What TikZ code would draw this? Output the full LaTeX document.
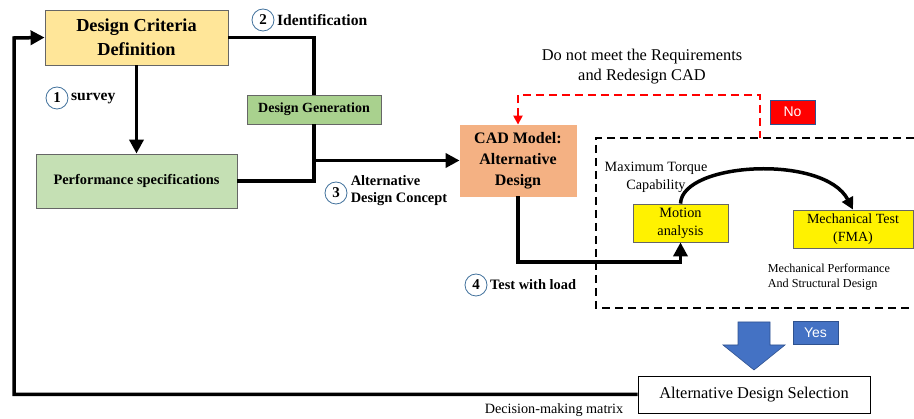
\documentclass[tikz,border=0pt]{standalone}
\usepackage{fontspec}
\setmainfont{Liberation Serif}
\newfontfamily\sansfont{Liberation Sans}
\usetikzlibrary{arrows.meta,positioning}

\definecolor{critcol}{HTML}{FFE699}
\definecolor{speccol}{HTML}{C5E0B4}
\definecolor{gencol}{HTML}{A9D18E}
\definecolor{cadcol}{HTML}{F4B183}
\definecolor{yescol}{HTML}{4472C4}
\definecolor{edgecol}{HTML}{2F528F}
\definecolor{ringcol}{HTML}{41719C}

\begin{document}
\begin{tikzpicture}[x=1pt,y=-1pt,>={Triangle[length=14pt,width=14pt]},line width=3.5pt,
            box/.style={draw=gray!80!black,line width=0.8pt,inner sep=0pt,align=center},
            num/.style={circle,draw=ringcol,line width=0.8pt,fill=white,inner sep=0pt,
                minimum size=22pt,font=\fontsize{15}{15}\selectfont\bfseries},
            steptext/.style={anchor=west,align=left,inner sep=1pt,
                font=\fontsize{14.4}{17}\selectfont\bfseries},
            note/.style={align=center,inner sep=0pt,font=\fontsize{16.4}{20}\selectfont}]
            \useasboundingbox (0,0) rectangle (914,419);

            % Define the boxes as nodes
            \node[box,fill=critcol,minimum width=183,minimum height=55,
                font=\fontsize{18.3}{24}\selectfont\bfseries] (crit) at (136.5,37.5) {Design Criteria\\Definition};
            \node[box,fill=speccol,minimum width=201,minimum height=54,
                font=\fontsize{14.4}{16}\selectfont\bfseries] (spec) at (136.5,181) {Performance specifications};
            \node[box,fill=gencol,minimum width=134,minimum height=29,
                font=\fontsize{14}{16}\selectfont\bfseries] (gen) at (314,109.5) {Design Generation};
            \node[box,draw=cadcol,fill=cadcol,minimum width=116,minimum height=71,
                font=\fontsize{16}{21}\selectfont\bfseries] (cad) at (518,160.5) {CAD Model:\\Alternative\\Design};
            \node[box,fill=yellow,minimum width=95,minimum height=38,
                font=\fontsize{14.3}{18}\selectfont] (motion) at (680.5,223) {Motion\\analysis};
            \node[box,fill=yellow,minimum width=120,minimum height=38,
                font=\fontsize{14}{18}\selectfont] (mech) at (853,229) {Mechanical Test\\(FMA)};
            \node[box,fill=white,draw=black,minimum width=232,minimum height=37,
                font=\fontsize{16.4}{18}\selectfont] (sel) at (754,394.5) {Alternative Design Selection};
            \node[box,draw=edgecol,fill=red,text=white,minimum width=45,minimum height=24,
                font=\sansfont\fontsize{14}{14}\selectfont] (no) at (792.5,112) {No};
            \node[box,draw=edgecol,fill=yescol,text=white,minimum width=45,minimum height=23,
                font=\sansfont\fontsize{14}{14}\selectfont] (yes) at (815.5,332.5) {Yes};

            % Step numbers and labels
            \node[num] (n1) at (57,98) {1};
            \node[steptext,font=\fontsize{15.6}{17}\selectfont\bfseries] (survey) [right=0pt of n1] {survey};
            \node[num] (n2) at (263,20) {2};
            \node[steptext,font=\fontsize{15.6}{17}\selectfont\bfseries] (ident) [right=0pt of n2] {Identification};
            \node[num] (n3) at (336,193) {3};
            \node[steptext] (concept) at (348,191) {Alternative\\Design Concept};
            \node[num] (n4) at (476,285) {4};
            \node[steptext] (load) [right=0pt of n4] {Test with load};

            % Free texts
            \node[note] (redo) at (642,67) {Do not meet the Requirements\\and Redesign CAD};
            \node[note,font=\fontsize{14.2}{18}\selectfont] (torque) at (656,177) {Maximum Torque\\Capability};
            \node[note,anchor=west,align=left,font=\fontsize{12.2}{15}\selectfont] (perf) at (766,277.5)
                {Mechanical Performance\\And Structural Design};
            \node[note,font=\fontsize{14.2}{15}\selectfont] (matrix) at (554,410) {Decision-making matrix};

            % Helper points
            \coordinate (split) at (gen.south |- cad.west);
            \coordinate (testline) at (motion.south |- 0,262);
            \coordinate (nohook) at (760,138);
            \coordinate (back) at (14,38);

            % Connect the boxes with arrows
            \draw[->] (crit) -- (spec);
            \draw (crit.east) -| (gen.north);
            \draw (gen.south) |- (spec.east);
            \draw[->] (split) -- (cad.west);
            \draw[->] (cad.south) |- (testline) -- (motion.south);
            \draw[->,>={Triangle[length=12pt,width=12pt]}] (motion.north) .. controls (682,162) and (824,154) .. (mech.north);
            \draw[->] (sel.west) -| (back) -- (crit.west);
            \draw[<-,red,line width=2.5pt,dash pattern=on 8pt off 5pt,>={Triangle[length=9pt,width=9pt]}]
                (cad.north) |- (760,95) -- (nohook);

            % Test frame and decision arrow
            \draw[line width=2.2pt,dash pattern=on 8pt off 5pt] (914,138) -- (596,138) -- (596,308) -- (914,308);
            \draw[fill=yescol,draw=edgecol,line width=0.6pt] (738,322) -- (770,322) -- (770,345) -- (785,345)
                -- (754,370) -- (723,345) -- (738,345) -- cycle;
\end{tikzpicture}
\end{document}
